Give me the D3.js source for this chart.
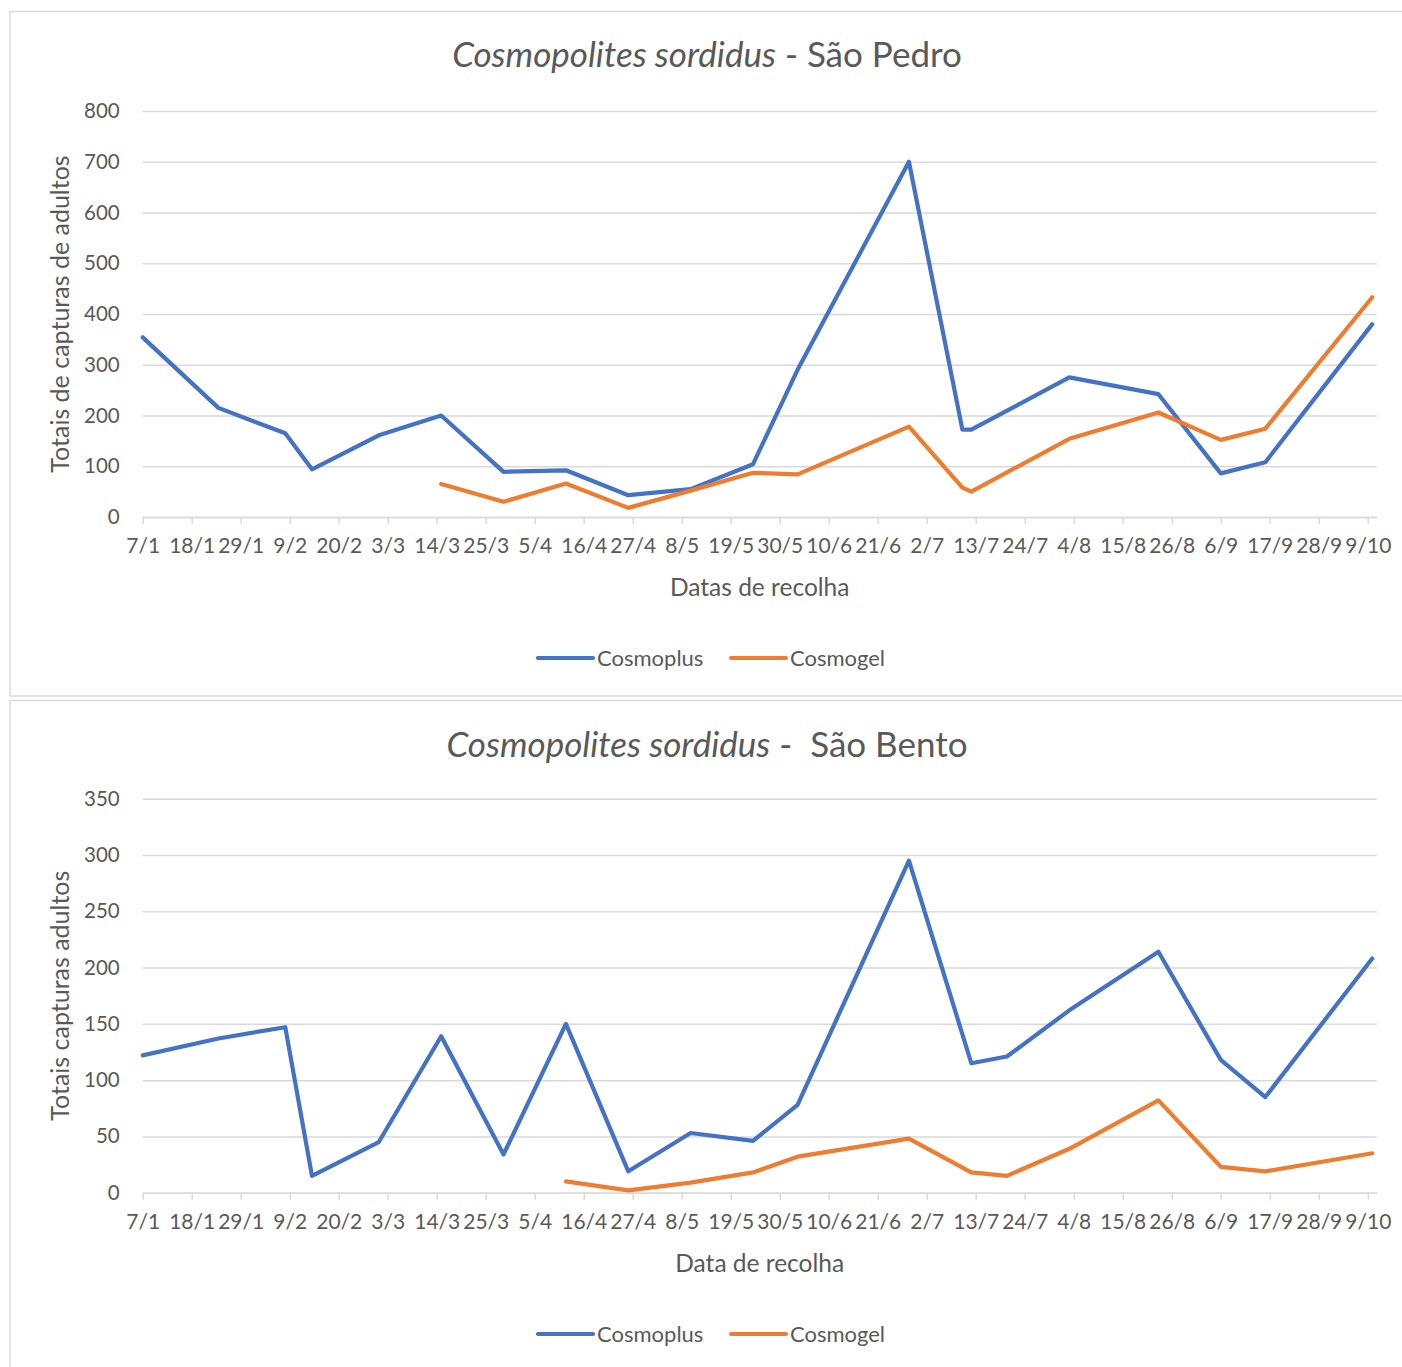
<!DOCTYPE html>
<html><head><meta charset="utf-8">
<script src="https://cdn.jsdelivr.net/npm/d3@7"></script>
<style>
body{margin:0;background:#fff}
svg{display:block}
text{font-family:Lato,"Open Sans",sans-serif;fill:#595959}
</style>
</head><body>
<svg id="c" width="1402" height="1367"></svg>
<script>
// ---- data ----
const tickLabels = ["7/1","18/1","29/1","9/2","20/2","3/3","14/3","25/3","5/4","16/4","27/4","8/5","19/5","30/5","10/6","21/6","2/7","13/7","24/7","4/8","15/8","26/8","6/9","17/9","28/9","9/10"];
const seriesNames = ["Cosmoplus","Cosmogel"];

const datesPedro = ["2019-01-07","2019-01-24","2019-02-08","2019-02-14","2019-03-01","2019-03-15","2019-03-29","2019-04-12","2019-04-26","2019-05-10","2019-05-24","2019-06-03","2019-06-28","2019-07-10","2019-07-12","2019-08-03","2019-08-23","2019-09-06","2019-09-16","2019-10-10"];
const pedroCosmoplus = [354,215,165,94,161,200,89,92,43,55,104,290,700,172,172,275,242,86,108,380];
const pedroCosmogel  = [null,null,null,null,null,65,30,66,18,52,87,84,178,58,50,154,206,152,174,433];

const datesBento = ["2019-01-07","2019-01-24","2019-02-08","2019-02-14","2019-03-01","2019-03-15","2019-03-29","2019-04-12","2019-04-26","2019-05-10","2019-05-24","2019-06-03","2019-06-28","2019-07-12","2019-07-20","2019-08-03","2019-08-23","2019-09-06","2019-09-16","2019-10-10"];
const bentoCosmoplus = [122,137,147,15,45,139,34,150,19,53,46,78,295,115,121,162,214,118,85,208];
const bentoCosmogel  = [null,null,null,null,null,null,null,10,2,9,18,32,48,18,15,39,82,23,19,35];

const colors = ["#4472C4","#ED7D31"];

// ---- drawing ----
const svg = d3.select("#c");
const parse = d3.timeParse("%Y-%m-%d");
const tickDates = tickLabels.map(l => { const [d,m] = l.split("/").map(Number); return new Date(2019, m-1, d); });
const x = d3.scaleTime().domain([new Date(2019,0,7), new Date(2019,9,11)]).range([142.7, 1376.7]);

function drawChart(o) {
  const g = svg.append("g");
  // frame
  g.append("rect").attr("x", 10).attr("y", o.frameTop).attr("width", 1420).attr("height", o.frameBottom - o.frameTop)
    .attr("fill", "none").attr("stroke", "#d9d9d9").attr("stroke-width", 1.5);

  const y = d3.scaleLinear().domain([0, o.yMax]).range([o.y0, o.y1]);

  // gridlines + y labels
  const ya = g.append("g").attr("transform", `translate(${x.range()[0]},0)`)
    .call(d3.axisLeft(y).ticks(o.yMax / o.yStep).tickSize(-(x.range()[1] - x.range()[0])).tickPadding(23));
  ya.select(".domain").remove();
  ya.selectAll(".tick line").attr("stroke", "#d9d9d9").attr("stroke-width", 1.5);
  ya.selectAll(".tick text").attr("font-size", 20.5).style("fill", "#595959").attr("font-family", "Lato");

  // x axis
  const xa = g.append("g").attr("transform", `translate(0,${o.y0})`)
    .call(d3.axisBottom(x).tickValues(tickDates).tickFormat((d,i) => tickLabels[i]).tickSize(7).tickSizeOuter(0).tickPadding(14));
  xa.select(".domain").attr("stroke", "#d9d9d9").attr("stroke-width", 1.5);
  xa.selectAll(".tick line").attr("stroke", "#d9d9d9").attr("stroke-width", 1.5);
  xa.selectAll(".tick text").attr("font-size", 21).style("fill", "#595959").attr("font-family", "Lato");

  // lines
  const line = d3.line().x(d => x(d.date)).y(d => y(d.v));
  o.series.forEach((s, i) => {
    const pts = o.dates.map((d, k) => ({date: parse(d), v: s[k]})).filter(p => p.v !== null);
    g.append("path").datum(pts).attr("d", line).attr("fill", "none")
      .attr("stroke", colors[i]).attr("stroke-width", 4.2)
      .attr("stroke-linejoin", "round").attr("stroke-linecap", "round");
  });

  // title
  const t = g.append("text").attr("x", 707).attr("y", o.titleY).attr("text-anchor", "middle")
    .attr("font-size", 35).style("fill", "#595959").style("white-space", "pre");
  t.append("tspan").attr("font-style", "italic").text("Cosmopolites sordidus");
  t.append("tspan").style("white-space", "pre").text(o.titleRest);

  // axis titles
  g.append("text").attr("x", 759.7).attr("y", o.xTitleY).attr("text-anchor", "middle")
    .attr("font-size", 24.5).text(o.xTitle);
  g.append("text").attr("transform", `translate(69,${(o.y0 + o.y1) / 2}) rotate(-90)`)
    .attr("text-anchor", "middle").attr("font-size", 25).text(o.yTitle);

  // legend
  const lx = [538, 731];
  seriesNames.forEach((n, i) => {
    g.append("line").attr("x1", lx[i]).attr("x2", lx[i] + 55).attr("y1", o.legendY).attr("y2", o.legendY)
      .attr("stroke", colors[i]).attr("stroke-width", 4.2).attr("stroke-linecap", "round");
    g.append("text").attr("x", lx[i] + 59).attr("y", o.legendY + 8).attr("font-size", 22).text(n);
  });
}

drawChart({
  frameTop: 11.5, frameBottom: 696,
  yMax: 800, yStep: 100, y0: 517, y1: 111,
  dates: datesPedro, series: [pedroCosmoplus, pedroCosmogel],
  titleY: 67, titleRest: " - São Pedro",
  xTitle: "Datas de recolha", xTitleY: 596,
  yTitle: "Totais de capturas de adultos",
  legendY: 658
});

drawChart({
  frameTop: 700.5, frameBottom: 1400,
  yMax: 350, yStep: 50, y0: 1192.7, y1: 798.7,
  dates: datesBento, series: [bentoCosmoplus, bentoCosmogel],
  titleY: 757, titleRest: " -  São Bento",
  xTitle: "Data de recolha", xTitleY: 1272,
  yTitle: "Totais capturas adultos",
  legendY: 1334
});
</script>
</body></html>
